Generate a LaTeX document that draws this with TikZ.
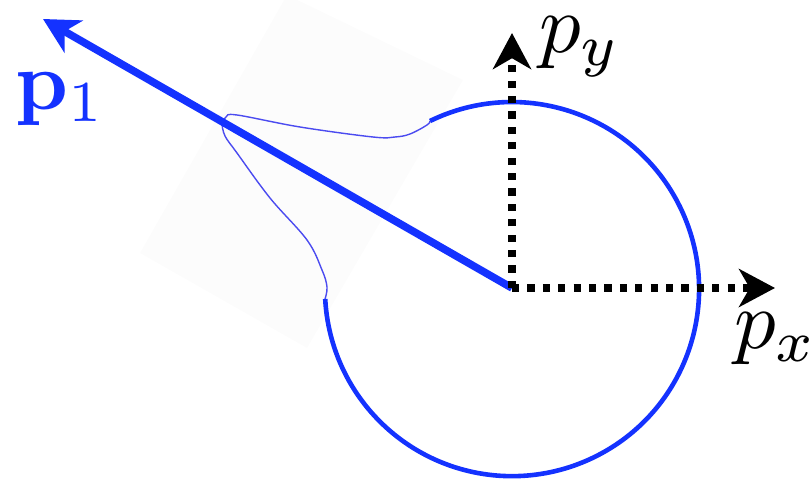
\documentclass[tikz,border=0pt]{standalone}
\usepackage{amsmath,amssymb}
\usepackage{tikz}
\usetikzlibrary{positioning,arrows.meta,calc}
\definecolor{vecblue}{RGB}{20,50,255}
\definecolor{thinblue}{RGB}{75,75,240}

\begin{document}
\begin{tikzpicture}[
    x=0.025cm, y=-0.025cm,
    axis/.style={line width=0.18cm, dash pattern=on 0.18cm off 0.205cm,
                 -{Stealth[length=0.9cm, width=0.95cm, inset=0.27cm]}},
    vec/.style={vecblue, line width=0.19cm,
                -{Stealth[length=0.88cm, width=0.92cm, inset=0.26cm]}},
    ring/.style={vecblue, line width=0.115cm},
    thin/.style={thinblue, line width=0.035cm},
    lbl/.style={scale=5.9, inner sep=0pt}
]
\useasboundingbox (0,0) rectangle (809,479);
\fill[black!1.2] (287,-5) -- (463,80) -- (307,348) -- (140,253) -- cycle;
\coordinate (o)    at (512,288);
\coordinate (xtip) at (775,288);
\coordinate (ytip) at (512,33);
\coordinate (ptip) at (43,19);
\coordinate (up)   at (430,121);
\coordinate (lo)   at (325,299);
\draw[ring] (up) arc[start angle=116, end angle=-177, radius=4.675cm];
\draw[thin] plot[smooth, tension=0.6] coordinates {(up) (427,125) (410,134) (395,137)
    (373,137) (300,127) (237,115) (226,117) (222,124)};
\draw[thin] plot[smooth, tension=0.6] coordinates {(222,124) (225,136) (237,153)
    (270,198) (307,240) (322,270) (327,287) (lo)};
\draw[vec] (o) -- (ptip);
\draw[axis] (o) -- (xtip);
\draw[axis] (o) -- (ytip);
\node[lbl] (py)   at (580,47)  {$p_y$};
\node[lbl] (px)   at (776,339) {$p_x$};
\node[lbl, vecblue] (pone) at (61,99) {$\mathbf{p}_1$};
\end{tikzpicture}
\end{document}
